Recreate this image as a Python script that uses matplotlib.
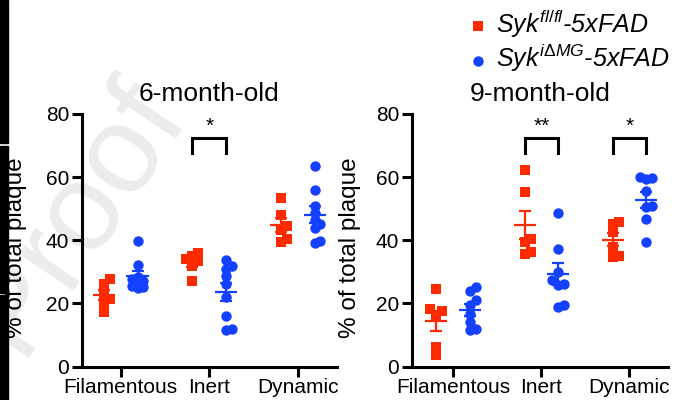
import numpy as np
import matplotlib
matplotlib.use("Agg")
import matplotlib.pyplot as plt
from matplotlib.patches import Rectangle

plt.rcParams['font.family'] = ['Liberation Sans', 'DejaVu Sans']
plt.rcParams['mathtext.fontset'] = 'custom'
plt.rcParams['mathtext.rm'] = 'Liberation Sans'
plt.rcParams['mathtext.it'] = 'Liberation Sans:italic'

# Данные
categories = ["Filamentous", "Inert", "Dynamic"]
label_fl = r"$Syk^{fl/fl}$-5xFAD"
label_cko = r"$Syk^{i\Delta MG}$-5xFAD"

m6_fl = [[26.2, 27.6, 23.0, 21.5, 19.8, 17.3],
         [36.0, 35.0, 34.2, 33.5, 32.0, 27.2],
         [53.4, 48.1, 44.5, 43.3, 40.4, 39.6]]
m6_cko = [[39.8, 32.2, 28.5, 27.8, 27.0, 26.0, 25.5, 25.2, 25.0],
          [33.8, 32.0, 31.0, 28.8, 26.2, 22.0, 15.9, 11.6, 11.8],
          [63.4, 56.0, 51.0, 48.5, 46.5, 45.0, 44.0, 39.8, 39.0]]
m9_fl = [[24.5, 18.4, 17.7, 16.0, 6.1, 3.7],
         [62.1, 55.3, 40.5, 39.5, 36.3, 35.8],
         [45.8, 45.3, 42.6, 37.9, 34.9, 34.7]]
m9_cko = [[25.3, 24.0, 21.0, 19.5, 16.8, 14.2, 12.0, 11.6],
          [48.6, 37.2, 30.0, 27.5, 26.3, 25.8, 19.5, 19.0],
          [60.0, 59.8, 59.5, 55.6, 50.7, 50.5, 46.8, 39.5]]
sig_6m = ["", "*", ""]
sig_9m = ["", "**", "*"]

RED = "#FF2A00"
BLUE = "#1440FF"
OFFSET = 0.19


def swarm_x(ax, xc, vals, diam_px):
    """Раскладывает точки по горизонтали (плотно, как в Prism)."""
    pts = ax.transData.transform([(xc, v) for v in vals])
    order = np.argsort(vals)
    placed = []
    out_px = np.zeros(len(vals))
    step = diam_px * 0.55
    for i in order:
        px, py = pts[i]
        best, best_d = px, -1
        for k in [0, 1, -1]:
            cx = px + k * step
            d = min([np.hypot(cx - qx, py - qy) for qx, qy in placed] or [1e9])
            if d >= diam_px * 0.6:
                best = cx
                break
            if d > best_d:
                best, best_d = cx, d
        placed.append((best, py))
        out_px[i] = best
    inv = ax.transData.inverted()
    return [inv.transform((x, pts[0][1]))[0] for x in out_px]


def mean_sem(ax, x, vals, color):
    vals = np.asarray(vals)
    m = vals.mean()
    sem = vals.std(ddof=1) / np.sqrt(len(vals))
    ax.hlines(m, x - 0.125, x + 0.125, color=color, lw=1.6, zorder=5)
    ax.errorbar(x, m, yerr=sem, fmt="none", ecolor=color, elinewidth=1.6,
                capsize=4, capthick=1.6, zorder=5)


def draw_panel(ax, fl, cko, sig, title, xlim, ylab_x):
    ax.set_facecolor("none")
    ax.set_xlim(*xlim)
    ax.set_ylim(0, 80)
    for i in range(len(categories)):
        xr = swarm_x(ax, i - OFFSET, fl[i], 11)
        ax.scatter(xr, fl[i], marker="s", s=62, color=RED, linewidths=0,
                   zorder=3, clip_on=False, label=label_fl if i == 0 else None)
        xb = swarm_x(ax, i + OFFSET, cko[i], 10.5)
        ax.scatter(xb, cko[i], marker="o", s=56, color=BLUE, linewidths=0,
                   zorder=3, clip_on=False, label=label_cko if i == 0 else None)
        mean_sem(ax, i - OFFSET, fl[i], RED)
        mean_sem(ax, i + OFFSET, cko[i], BLUE)
        if sig[i]:
            top, leg = 72.3, 4.8
            ax.plot([i - OFFSET, i - OFFSET, i + OFFSET, i + OFFSET],
                    [top - leg, top, top, top - leg], color="black", lw=2.2,
                    solid_joinstyle="miter", clip_on=False)
            ax.text(i, top + 0.8, sig[i], ha="center", va="bottom", fontsize=15)

    ax.set_xticks(range(len(categories)))
    ax.set_xticklabels(categories)
    ax.set_yticks([0, 20, 40, 60, 80])
    ax.tick_params(axis="both", labelsize=15, width=2.2, length=7, color="black")
    ax.tick_params(axis="x", pad=1)
    ax.tick_params(axis="y", pad=2)
    for s in ["top", "right"]:
        ax.spines[s].set_visible(False)
    for s in ["left", "bottom"]:
        ax.spines[s].set_linewidth(2.2)
    ax.set_ylabel("% of total plaque", fontsize=17.5)
    ax.yaxis.set_label_coords(ylab_x, 0.47)
    ax.set_title(title, fontsize=19, pad=9)


fig = plt.figure(figsize=(6.76, 4.0), dpi=100)

# Водяной знак и край соседней панели
fig.text(0.112, 0.46, "Proof", rotation=56, fontsize=90, color="#ececec",
         ha="center", va="center", rotation_mode="anchor", zorder=-1)
for y0, y1 in [(0, 143), (146, 293), (295, 400)]:
    fig.patches.append(Rectangle((0, 1 - y1 / 400), 8 / 676, (y1 - y0) / 400,
                                 transform=fig.transFigure, color="black", zorder=1))

ax1 = fig.add_axes([0.1209, 0.0833, 0.3772, 0.632])
ax2 = fig.add_axes([0.609, 0.0833, 0.3796, 0.632])

draw_panel(ax1, m6_fl, m6_cko, sig_6m, "6-month-old", (-0.44, 2.44), -0.2145)
draw_panel(ax2, m9_fl, m9_cko, sig_9m, "9-month-old", (-0.47, 2.44), -0.199)

h, l = ax1.get_legend_handles_labels()
fig.legend(h, l, loc="upper left", bbox_to_anchor=(0.667, 1.012), frameon=False,
           prop={"size": 18, "style": "italic"}, handletextpad=0.1,
           labelspacing=0.1, borderaxespad=0.1, handlelength=1.2,
           markerscale=1.0)

fig.savefig("out.png", dpi=100)
